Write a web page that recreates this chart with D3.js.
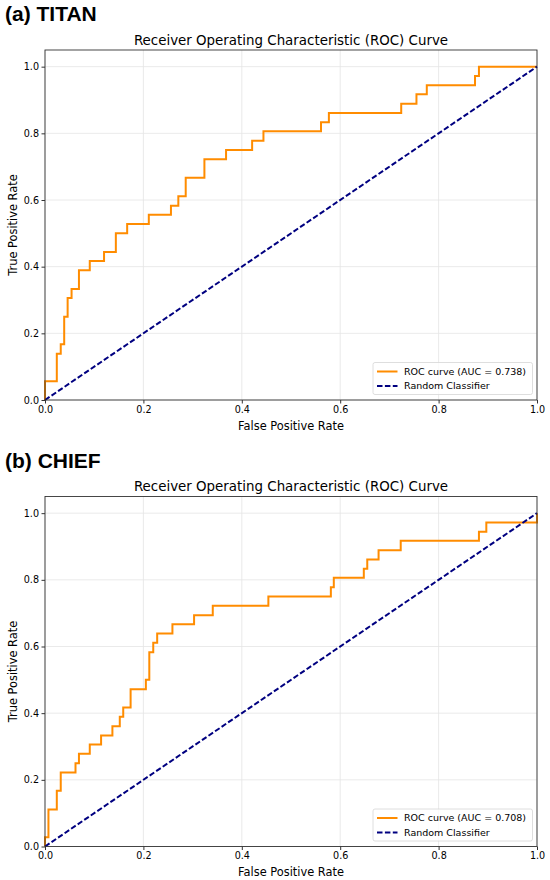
<!DOCTYPE html>
<html>
<head>
<meta charset="utf-8">
<script src="https://cdn.jsdelivr.net/npm/d3@7"></script>
<style>
  html, body { margin: 0; padding: 0; background: #fff; }
  svg { display: block; }
  .tick text { font-family: "DejaVu Sans", sans-serif; font-size: 9.6px; fill: #000; }
</style>
</head>
<body>
<svg id="chart" width="550" height="880"></svg>
<script>
// Données
const panelTitles = ["(a) TITAN", "(b) CHIEF"];
const aucLabels = ["ROC curve (AUC = 0.738)", "ROC curve (AUC = 0.708)"];
const tickValues = [0, 0.2, 0.4, 0.6, 0.8, 1.0];

const titanFpr = [0, 0, 0.024, 0.032, 0.039, 0.046, 0.054, 0.069, 0.091, 0.120,
  0.144, 0.167, 0.211, 0.256, 0.271, 0.286, 0.324, 0.368, 0.421, 0.444,
  0.561, 0.577, 0.724, 0.755, 0.776, 0.874, 0.882, 1.0];
const titanTpr = [0, 0.056, 0.139, 0.167, 0.250, 0.306, 0.333, 0.389, 0.417, 0.444,
  0.500, 0.528, 0.556, 0.583, 0.611, 0.667, 0.722, 0.750, 0.778, 0.806,
  0.833, 0.861, 0.889, 0.917, 0.944, 0.972, 1.0, 1.0];

const chiefFpr = [0, 0, 0.007, 0.024, 0.032, 0.062, 0.069, 0.091, 0.114, 0.137,
  0.152, 0.159, 0.174, 0.205, 0.212, 0.220, 0.228, 0.259, 0.303, 0.341,
  0.454, 0.581, 0.587, 0.648, 0.655, 0.678, 0.723, 0.882, 0.897, 1.0, 1.0];
const chiefTpr = [0, 0.028, 0.111, 0.167, 0.222, 0.250, 0.278, 0.306, 0.333, 0.361,
  0.389, 0.417, 0.472, 0.500, 0.583, 0.611, 0.639, 0.667, 0.694, 0.722,
  0.750, 0.778, 0.806, 0.833, 0.861, 0.889, 0.917, 0.944, 0.972, 0.972, 1.0];

const diagonal = [0, 1];

const svg = d3.select("#chart");
const margin = { left: 45, right: 537, top: 50, bottom: 400 };

const x = d3.scaleLinear().domain([0, 1]).range([margin.left, margin.right]);
const y = d3.scaleLinear().domain([0, 1.05]).range([margin.bottom, margin.top]);

function drawPanel(offset, title, fpr, tpr, aucLabel) {
  const g = svg.append("g").attr("transform", `translate(0,${offset})`);

  // Titre du panneau
  g.append("text")
    .attr("x", 5).attr("y", 21)
    .attr("font-family", "Liberation Sans, Arial, sans-serif")
    .attr("font-weight", "bold")
    .attr("font-size", "21px")
    .text(title);

  g.append("text")
    .attr("x", (margin.left + margin.right) / 2).attr("y", 44.5)
    .attr("text-anchor", "middle")
    .attr("font-family", "DejaVu Sans, sans-serif")
    .attr("font-size", "13.4px")
    .text("Receiver Operating Characteristic (ROC) Curve");

  // Grille
  g.append("g").selectAll("line.gx")
    .data(tickValues).enter().append("line")
    .attr("x1", d => x(d)).attr("x2", d => x(d))
    .attr("y1", margin.top).attr("y2", margin.bottom)
    .attr("stroke", "#e4e4e4").attr("stroke-width", 0.8);
  g.append("g").selectAll("line.gy")
    .data(tickValues).enter().append("line")
    .attr("x1", margin.left).attr("x2", margin.right)
    .attr("y1", d => y(d)).attr("y2", d => y(d))
    .attr("stroke", "#e4e4e4").attr("stroke-width", 0.8);

  // Courbe ROC
  const points = fpr.map((f, i) => [f, tpr[i]]);
  const line = d3.line().x(d => x(d[0])).y(d => y(d[1])).curve(d3.curveStepAfter);
  g.append("path")
    .datum(points)
    .attr("d", line)
    .attr("fill", "none")
    .attr("stroke", "#ff8c00")
    .attr("stroke-width", 2);

  // Classifieur aléatoire
  g.append("path")
    .datum(diagonal.map(d => [d, d]))
    .attr("d", d3.line().x(d => x(d[0])).y(d => y(d[1])))
    .attr("fill", "none")
    .attr("stroke", "#000080")
    .attr("stroke-width", 2)
    .attr("stroke-dasharray", "5.5,2.4");

  // Cadre
  g.append("rect")
    .attr("x", margin.left).attr("y", margin.top)
    .attr("width", margin.right - margin.left)
    .attr("height", margin.bottom - margin.top)
    .attr("fill", "none").attr("stroke", "#333").attr("stroke-width", 0.9);

  // Axes
  const fmt = d3.format(".1f");
  g.append("g")
    .attr("transform", `translate(0,${margin.bottom})`)
    .call(d3.axisBottom(x).tickValues(tickValues).tickFormat(fmt).tickSize(3.5).tickPadding(2.5))
    .call(a => a.select(".domain").remove())
    .call(a => a.selectAll(".tick line").attr("stroke", "#333"));
  g.append("g")
    .attr("transform", `translate(${margin.left},0)`)
    .call(d3.axisLeft(y).tickValues(tickValues).tickFormat(fmt).tickSize(3.5).tickPadding(2.5))
    .call(a => a.select(".domain").remove())
    .call(a => a.selectAll(".tick line").attr("stroke", "#333"));

  g.append("text")
    .attr("x", (margin.left + margin.right) / 2).attr("y", 429.5)
    .attr("text-anchor", "middle")
    .attr("font-family", "DejaVu Sans, sans-serif")
    .attr("font-size", "11.4px")
    .text("False Positive Rate");

  g.append("text")
    .attr("transform", `translate(17,${(margin.top + margin.bottom) / 2}) rotate(-90)`)
    .attr("text-anchor", "middle")
    .attr("font-family", "DejaVu Sans, sans-serif")
    .attr("font-size", "11.4px")
    .text("True Positive Rate");

  // Légende
  const lg = g.append("g").attr("transform", "translate(373,362.5)");
  lg.append("rect")
    .attr("width", 159.5).attr("height", 32)
    .attr("rx", 2)
    .attr("fill", "#fff").attr("fill-opacity", 0.8)
    .attr("stroke", "#d6d6d6").attr("stroke-width", 0.8);
  const items = [
    { label: aucLabel, color: "#ff8c00", dash: null },
    { label: "Random Classifier", color: "#000080", dash: "5.5,2.4" }
  ];
  items.forEach((it, i) => {
    const yy = 9 + i * 14.5;
    lg.append("line")
      .attr("x1", 4).attr("x2", 24.5)
      .attr("y1", yy).attr("y2", yy)
      .attr("stroke", it.color).attr("stroke-width", 2)
      .attr("stroke-dasharray", it.dash);
    lg.append("text")
      .attr("x", 31).attr("y", yy + 3.4)
      .attr("font-family", "DejaVu Sans, sans-serif")
      .attr("font-size", "9.5px")
      .text(it.label);
  });
}

drawPanel(0, panelTitles[0], titanFpr, titanTpr, aucLabels[0]);
drawPanel(446.5, panelTitles[1], chiefFpr, chiefTpr, aucLabels[1]);
</script>
</body>
</html>
